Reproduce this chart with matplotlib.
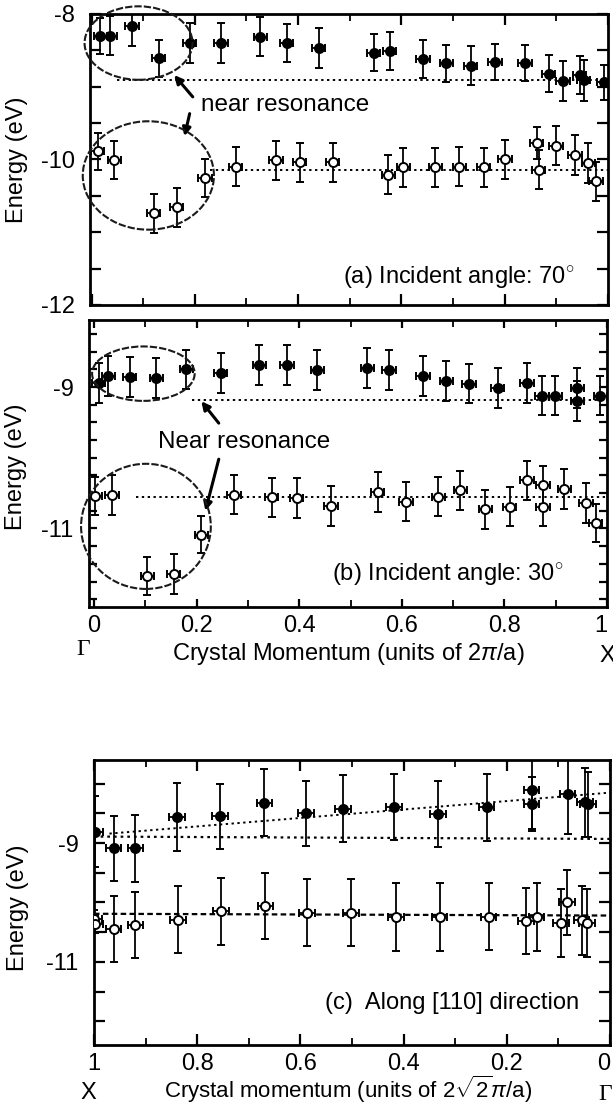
import matplotlib
matplotlib.use("Agg")
import matplotlib.pyplot as plt
import matplotlib.ticker as mticker
from matplotlib.patches import Ellipse

plt.rcParams["font.family"] = ["Liberation Sans", "DejaVu Sans"]
plt.rcParams["axes.unicode_minus"] = False
plt.rcParams["mathtext.fontset"] = "custom"
plt.rcParams["mathtext.rm"] = "Liberation Sans"
plt.rcParams["mathtext.it"] = "Liberation Sans:italic"

# ---- panel (a): incident angle 70 deg ----
a_fill_k = [0.017, 0.036, 0.078, 0.130, 0.190, 0.251, 0.327, 0.378, 0.440, 0.546, 0.577,
            0.642, 0.687, 0.734, 0.781, 0.839, 0.885, 0.913, 0.945, 0.953, 0.992]
a_fill_E = [-8.30, -8.30, -8.17, -8.61, -8.40, -8.40, -8.31, -8.40, -8.47, -8.53, -8.51,
            -8.62, -8.68, -8.71, -8.66, -8.67, -8.82, -8.92, -8.84, -8.91, -8.94]
a_fill_err = [0.25, 0.27, 0.27, 0.25, 0.27, 0.27, 0.27, 0.26, 0.27, 0.26, 0.26,
              0.26, 0.26, 0.27, 0.25, 0.25, 0.25, 0.27, 0.26, 0.28, 0.24]
a_open_k = [0.012, 0.044, 0.120, 0.165, 0.220, 0.279, 0.357, 0.403, 0.467, 0.575, 0.604,
            0.666, 0.712, 0.759, 0.801, 0.862, 0.866, 0.899, 0.936, 0.962, 0.977]
a_open_E = [-9.89, -10.01, -10.74, -10.66, -10.25, -10.10, -10.01, -10.04, -10.04, -10.21, -10.11,
            -10.11, -10.10, -10.11, -10.00, -9.77, -10.14, -9.81, -9.94, -10.05, -10.30]
a_open_err = [0.26, 0.26, 0.27, 0.27, 0.26, 0.27, 0.27, 0.27, 0.27, 0.27, 0.27,
              0.27, 0.27, 0.27, 0.27, 0.22, 0.27, 0.27, 0.27, 0.27, 0.27]
a_line_fill = ([0.05, 1.0], [-8.91, -8.91])
a_line_open = ([0.23, 1.0], [-10.14, -10.14])

# ---- panel (b): incident angle 30 deg ----
b_fill_k = [0.009, 0.028, 0.069, 0.121, 0.180, 0.247, 0.322, 0.376, 0.435, 0.533, 0.575,
            0.641, 0.687, 0.731, 0.787, 0.844, 0.873, 0.899, 0.942, 0.942, 0.987]
b_fill_E = [-8.94, -8.84, -8.86, -8.87, -8.75, -8.80, -8.69, -8.69, -8.76, -8.73, -8.76,
            -8.84, -8.91, -8.95, -9.01, -8.94, -9.12, -9.12, -9.01, -9.20, -9.12]
b_fill_err = [0.28] * 21
b_open_k = [0.002, 0.035, 0.104, 0.155, 0.209, 0.273, 0.346, 0.395, 0.462, 0.553, 0.608,
            0.671, 0.714, 0.763, 0.810, 0.844, 0.875, 0.875, 0.917, 0.959, 0.978]
b_open_E = [-10.54, -10.53, -11.67, -11.64, -11.09, -10.52, -10.56, -10.57, -10.68, -10.48, -10.62,
            -10.55, -10.46, -10.73, -10.69, -10.32, -10.38, -10.69, -10.44, -10.64, -10.92]
b_open_err = [0.27, 0.28, 0.27, 0.28, 0.26, 0.28, 0.28, 0.28, 0.28, 0.28, 0.28,
              0.28, 0.28, 0.28, 0.28, 0.27, 0.27, 0.28, 0.28, 0.28, 0.27]
b_line_fill = ([0.19, 1.0], [-9.18, -9.18])
b_line_open = ([0.082, 1.0], [-10.56, -10.56])

# ---- panel (c): along [110] ----
c_fill_k = [0.998, 0.962, 0.920, 0.839, 0.756, 0.670, 0.589, 0.517, 0.419, 0.333,
            0.239, 0.152, 0.152, 0.082, 0.048, 0.043]
c_fill_E = [-8.81, -9.09, -9.09, -8.56, -8.55, -8.32, -8.50, -8.42, -8.39, -8.51,
            -8.40, -8.10, -8.34, -8.17, -8.31, -8.35]
c_fill_err = [0.60, 0.55, 0.56, 0.57, 0.55, 0.56, 0.55, 0.56, 0.56, 0.55,
              0.57, 0.66, 0.45, 0.68, 0.58, 0.55]
c_open_k = [1.0, 0.998, 0.962, 0.920, 0.837, 0.754, 0.668, 0.587, 0.502, 0.415,
            0.330, 0.235, 0.163, 0.142, 0.095, 0.083, 0.055, 0.045]
c_open_E = [-10.27, -10.36, -10.45, -10.38, -10.29, -10.15, -10.06, -10.17, -10.17, -10.24,
            -10.24, -10.24, -10.31, -10.24, -10.35, -10.00, -10.30, -10.34]
c_open_err = [0.15, 0.15, 0.56, 0.56, 0.56, 0.56, 0.56, 0.57, 0.57, 0.57,
              0.57, 0.56, 0.56, 0.57, 0.57, 0.55, 0.58, 0.57]
c_line_slope = ([0.97, 0.0], [-8.84, -8.15])
c_line_fill = ([1.0, 0.0], [-8.89, -8.93])
c_line_open = ([1.0, 0.0], [-10.19, -10.22])

XERR_AB = 0.013
XERR_C = 0.015

FS = 17
fig = plt.figure(figsize=(6.13, 11.07), dpi=100)
ax_a = fig.add_axes([0.1468, 0.7245, 0.845, 0.2629])
ax_b = fig.add_axes([0.1452, 0.4517, 0.845, 0.2593])
ax_c = fig.add_axes([0.1533, 0.0560, 0.8418, 0.2575])


def draw_points(ax, k, E, err, xerr, filled, ms=6.5):
    face = "black" if filled else "white"
    ax.errorbar(k, E, yerr=err, xerr=xerr, fmt="o", ms=ms, mfc=face, mec="black",
                mew=1.4, ecolor="black", elinewidth=1.3, capsize=2.8, capthick=1.3,
                zorder=3)


def style_axes(ax):
    for s in ax.spines.values():
        s.set_linewidth(2.0)
    ax.tick_params(which="both", direction="in", top=True, right=True,
                   labelsize=FS, pad=6)
    ax.tick_params(which="major", length=8, width=1.6)
    ax.tick_params(which="minor", length=5, width=1.3)
    ax.tick_params(axis="y", pad=11)
    ax.xaxis.set_major_formatter(mticker.FormatStrFormatter("%g"))


def ylabels_only(ax, labelled):
    ax.yaxis.set_major_formatter(mticker.FuncFormatter(
        lambda v, p: "%g" % v if any(abs(v - l) < 1e-6 for l in labelled) else ""))


dot = (0, (1.2, 1.8))
ell_ls = (0, (3.5, 1.0))

# panel (a)
ax = ax_a
ax.plot(*a_line_fill, color="black", lw=1.4, ls=dot, zorder=2)
ax.plot(*a_line_open, color="black", lw=1.4, ls=dot, zorder=2)
draw_points(ax, a_fill_k, a_fill_E, a_fill_err, XERR_AB, True)
draw_points(ax, a_open_k, a_open_E, a_open_err, XERR_AB, False)
ax.add_patch(Ellipse((0.091, -8.40), 0.209, 1.01, fill=False, lw=1.5, ls=ell_ls,
                     ec="#1a1a1a", clip_on=False, zorder=4))
ax.add_patch(Ellipse((0.110, -10.22), 0.254, 1.49, fill=False, lw=1.5, ls=ell_ls,
                     ec="#1a1a1a", clip_on=False, zorder=4))
ax.text(0.212, -9.25, "near resonance", fontsize=17.5, va="center", ha="left")
arw = dict(arrowstyle="-|>", lw=2.2, color="black", mutation_scale=12, shrinkA=0, shrinkB=0)
ax.annotate("", xy=(0.160, -8.84), xytext=(0.196, -9.14), arrowprops=arw)
ax.annotate("", xy=(0.180, -9.68), xytext=(0.190, -9.37), arrowprops=arw)
ax.text(0.935, -11.62, r"(a) Incident angle: 70$^{\circ}$", fontsize=FS, ha="right", va="center")
ax.set_xlim(-0.003, 1.0)
ax.set_ylim(-12, -8)
ax.xaxis.set_major_locator(mticker.MultipleLocator(0.2))
ax.xaxis.set_minor_locator(mticker.MultipleLocator(0.1))
ax.yaxis.set_major_locator(mticker.MultipleLocator(0.5))
style_axes(ax)
ylabels_only(ax, [-8, -10, -12])
ax.tick_params(axis="x", labelbottom=False)
ax.set_ylabel("Energy (eV)", fontsize=FS)
ax.yaxis.set_label_coords(-0.12, 0.5)

# panel (b)
ax = ax_b
ax.plot(*b_line_fill, color="black", lw=1.4, ls=dot, zorder=2)
ax.plot(*b_line_open, color="black", lw=1.4, ls=dot, zorder=2)
draw_points(ax, b_fill_k, b_fill_E, b_fill_err, XERR_AB, True)
draw_points(ax, b_open_k, b_open_E, b_open_err, XERR_AB, False)
ax.add_patch(Ellipse((0.096, -8.81), 0.200, 0.77, fill=False, lw=1.5, ls=ell_ls,
                     ec="#1a1a1a", clip_on=False, zorder=4))
ax.add_patch(Ellipse((0.101, -10.97), 0.253, 1.77, fill=False, lw=1.5, ls=ell_ls,
                     ec="#1a1a1a", clip_on=False, zorder=4))
ax.text(0.124, -9.78, "Near resonance", fontsize=17.5, va="center", ha="left")
ax.annotate("", xy=(0.209, -9.20), xytext=(0.243, -9.51), arrowprops=arw)
ax.annotate("", xy=(0.217, -10.75), xytext=(0.243, -10.02), arrowprops=arw)
ax.text(0.915, -11.64, r"(b) Incident angle: 30$^{\circ}$", fontsize=FS, ha="right", va="center")
ax.set_xlim(-0.01, 1.0)
ax.set_ylim(-12.11, -8.05)
ax.xaxis.set_major_locator(mticker.MultipleLocator(0.2))
ax.xaxis.set_minor_locator(mticker.MultipleLocator(0.1))
ax.yaxis.set_major_locator(mticker.MultipleLocator(0.25))
style_axes(ax)
ax.tick_params(which="major", length=6)
ylabels_only(ax, [-9, -11])
ax.set_ylabel("Energy (eV)", fontsize=FS)
ax.yaxis.set_label_coords(-0.12, 0.49)
ax.set_xlabel(r"Crystal Momentum (units of 2$\pi$/a)", fontsize=FS)
ax.xaxis.set_label_coords(0.5, -0.118)
ax.text(-0.012, -0.148, "Γ", transform=ax.transAxes, fontsize=17, ha="center",
        va="center", family="Liberation Serif")
ax.text(1.0, -0.17, "X", transform=ax.transAxes, fontsize=FS, ha="center", va="center")

# panel (c)
ax = ax_c
ax.plot(*c_line_slope, color="black", lw=1.4, ls=dot, zorder=2)
ax.plot(*c_line_fill, color="black", lw=1.6, ls=dot, zorder=2)
ax.plot(*c_line_open, color="black", lw=1.6, ls=(0, (2.5, 1.5)), zorder=2)
draw_points(ax, c_fill_k, c_fill_E, c_fill_err, XERR_C, True)
draw_points(ax, c_open_k, c_open_E, c_open_err, XERR_C, False)
ax.text(0.06, -11.69, "(c)  Along [110] direction", fontsize=FS, ha="right", va="center")
ax.set_xlim(1.0, 0.0)
ax.set_ylim(-12.4, -7.6)
ax.xaxis.set_major_locator(mticker.MultipleLocator(0.2))
ax.xaxis.set_minor_locator(mticker.MultipleLocator(0.1))
ax.yaxis.set_major_locator(mticker.MultipleLocator(0.5))
style_axes(ax)
ylabels_only(ax, [-9, -11])
ax.set_ylabel("Energy (eV)", fontsize=FS)
ax.yaxis.set_label_coords(-0.126, 0.48)
ax.set_xlabel(r"Crystal momentum (units of 2$\sqrt{2}\pi$/a)", fontsize=16)
ax.xaxis.set_label_coords(0.492, -0.1)
ax.text(-0.01, -0.168, "X", transform=ax.transAxes, fontsize=FS, ha="center", va="center")
ax.text(0.99, -0.175, "Γ", transform=ax.transAxes, fontsize=17, ha="center",
        va="center", family="Liberation Serif")

# keep the edge labels ("0" in c, "1" in b) inside the canvas
fig.canvas.draw()
for t in ax_c.get_xticklabels():
    if t.get_text() == "0":
        t.set_ha("right")
for t in ax_b.get_xticklabels():
    if t.get_text() == "1":
        t.set_ha("right")

fig.savefig("out.png", dpi=100)
